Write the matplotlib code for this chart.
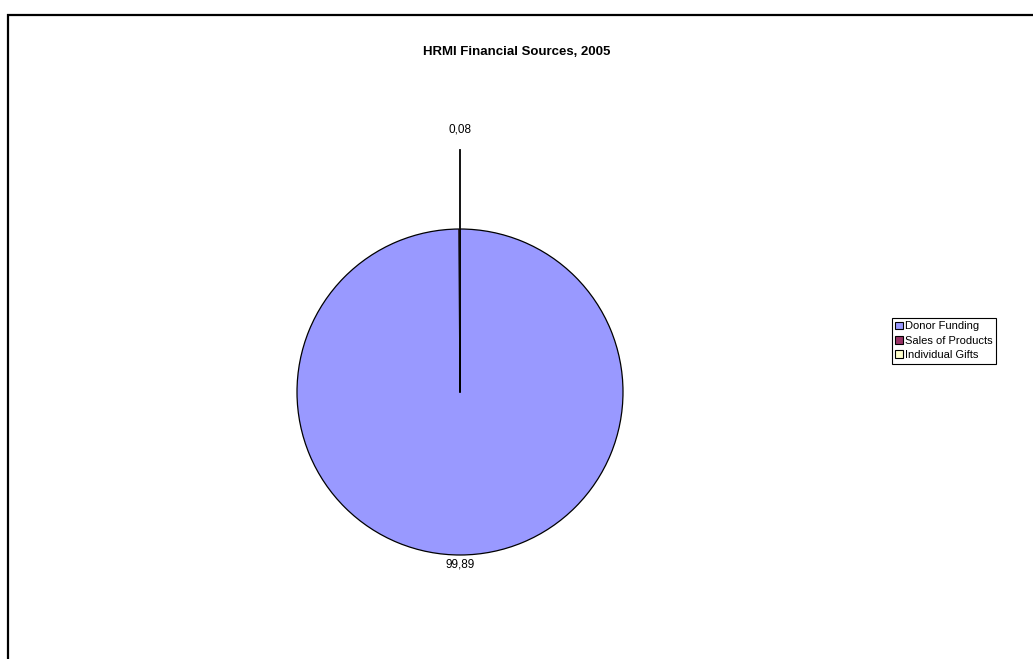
import matplotlib.pyplot as plt
from matplotlib.lines import Line2D
from matplotlib.patches import Patch

plt.rcParams['font.family'] = ['Liberation Sans', 'DejaVu Sans']

# dados do grafico
fontes = ['Donor Funding', 'Sales of Products', 'Individual Gifts']
valores = [99.89, 0.08, 0.03]
rotulos = ['99,89', '0,08', '']
cores = ['#9999FF', '#993366', '#FFFFCC']

W, H = 1033, 659
fig = plt.figure(figsize=(W / 100, H / 100), dpi=100)

# centro da pizza (460, 392) px, raio 163 px
cx, cy, r = 460, 392, 163
half = 250
ax = fig.add_axes([(cx - half) / W, (H - cy - half) / H, 2 * half / W, 2 * half / H])

wedges, _ = ax.pie(valores, colors=cores, startangle=90, counterclock=False,
                   wedgeprops=dict(edgecolor='black', linewidth=0.9))
for w in wedges[1:]:
    w.set_linewidth(0)
ax.set_xlim(-half / r, half / r)
ax.set_ylim(-half / r, half / r)
ax.set_aspect('equal')
ax.axis('off')

# rotulos dos valores
ax.text(0, -1.061, rotulos[0], ha='center', va='center', fontsize=8.5)
ax.plot([0, 0], [0, (cy - 150) / r], color='black', lw=1.3)
ax.text(0, (cy - 130) / r, rotulos[1], ha='center', va='center', fontsize=8.5)

fig.text(517 / W, 1 - 52 / H, 'HRMI Financial Sources, 2005', ha='center', va='center',
         fontsize=9.5, fontweight='bold')

# legenda
handles = [Patch(facecolor=c, edgecolor='black', linewidth=0.8) for c in cores]
leg = fig.legend(handles, fontes, loc='upper left', bbox_to_anchor=(892 / W, 1 - 318 / H),
                 borderaxespad=0, fancybox=False, edgecolor='black', framealpha=1,
                 fontsize=8, handlelength=0.7, handleheight=0.7, handletextpad=0.2,
                 labelspacing=0.4, borderpad=0.3)
leg.get_frame().set_linewidth(0.8)

# moldura (so topo e esquerda aparecem)
fig.add_artist(Line2D([7.5 / W, 7.5 / W], [0, 1 - 14 / H], color='black', lw=1.6,
                      solid_capstyle='butt'))
fig.add_artist(Line2D([7 / W, 1], [1 - 14.5 / H, 1 - 14.5 / H], color='black', lw=1.6,
                      solid_capstyle='butt'))

fig.savefig('out.png', dpi=100)
